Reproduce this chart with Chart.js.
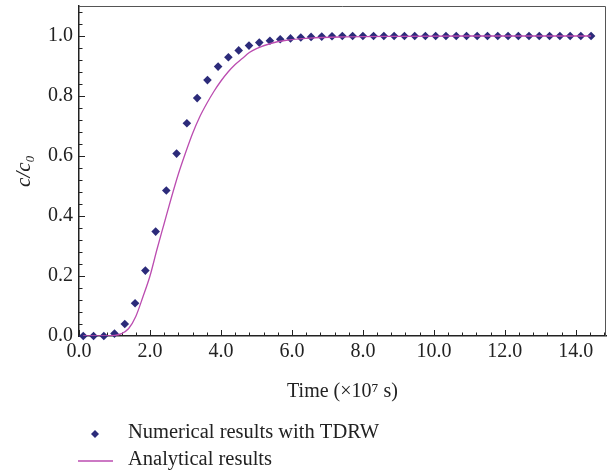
<!DOCTYPE html>
<html>
<head>
<meta charset="utf-8">
<script src="https://cdn.jsdelivr.net/npm/chart.js@4/dist/chart.umd.min.js"></script>
<style>
  html, body { margin: 0; padding: 0; background: #fff; }
</style>
</head>
<body>
<canvas id="chart" width="613" height="473"></canvas>
<script>
// numerical (TDRW) results, time in 1e7 s
const numTime = [0.12, 0.41, 0.70, 1.00, 1.29, 1.58, 1.87, 2.16, 2.46, 2.75,
                 3.04, 3.33, 3.62, 3.92, 4.21, 4.50, 4.79, 5.08, 5.38, 5.67,
                 5.96, 6.25, 6.54, 6.84, 7.13, 7.42, 7.71, 8.00, 8.30, 8.59,
                 8.88, 9.17, 9.46, 9.76, 10.05, 10.34, 10.63, 10.92, 11.22, 11.51,
                 11.80, 12.09, 12.38, 12.68, 12.97, 13.26, 13.55, 13.84, 14.14, 14.43];
const numConc = [0, 0, 0, 0.008, 0.04, 0.109, 0.218, 0.348, 0.485, 0.608,
                 0.709, 0.793, 0.853, 0.898, 0.929, 0.952, 0.968, 0.978, 0.984, 0.989,
                 0.992, 0.995, 0.997, 0.998, 0.999, 1, 1, 1, 1, 1,
                 1, 1, 1, 1, 1, 1, 1, 1, 1, 1,
                 1, 1, 1, 1, 1, 1, 1, 1, 1, 1];
// analytical solution
const anaTime = [0.12, 0.5, 1.0, 1.2, 1.4, 1.6, 1.8, 2.0, 2.2, 2.4, 2.6, 2.8, 3.0, 3.2, 3.4,
                 3.6, 3.8, 4.0, 4.2, 4.4, 4.6, 4.8, 5.0, 5.4, 5.8, 6.5, 7.5, 9.0, 11.0, 14.43];
const anaConc = [0, 0, 0.002, 0.008, 0.025, 0.065, 0.13, 0.20, 0.29, 0.375, 0.46, 0.54, 0.61, 0.675, 0.73,
                 0.775, 0.815, 0.85, 0.88, 0.905, 0.925, 0.945, 0.958, 0.975, 0.985, 0.993, 0.997, 0.999, 1, 1];

const xTicks = [0, 2, 4, 6, 8, 10, 12, 14];
const yTicks = [0, 0.2, 0.4, 0.6, 0.8, 1.0];
const seriesNames = ['Numerical results with TDRW', 'Analytical results'];

const
  pointColor = '#2c2b7a',
  lineColor  = '#bb4cb0',
  textColor  = '#222',
  serif      = '"Liberation Serif", "DejaVu Serif", serif';

// frame on top/right + inward tick marks, like the original plot
const frame = {
  id: 'frame',
  beforeDatasetsDraw(chart) {
    const {ctx, chartArea: a, scales: {x, y}} = chart;
    ctx.save();
    ctx.strokeStyle = '#555';
    ctx.lineWidth = 1;
    ctx.beginPath();
    ctx.moveTo(a.left, a.top + 0.5);
    ctx.lineTo(a.right - 0.5, a.top + 0.5);
    ctx.lineTo(a.right - 0.5, a.bottom);
    ctx.stroke();

    ctx.strokeStyle = textColor;
    ctx.beginPath();
    for (let k = 0; k <= 27; k++) {
      const py = Math.round(y.getPixelForValue(k * 0.04)) + 0.5;
      const len = k % 5 === 0 ? 6 : 3.5;
      ctx.moveTo(a.left, py);
      ctx.lineTo(a.left + len, py);
    }
    for (let k = 0; k <= 37; k++) {
      const px = Math.round(x.getPixelForValue(k * 0.4)) + 0.5;
      const len = k % 5 === 0 ? 6 : 3.5;
      ctx.moveTo(px, a.bottom);
      ctx.lineTo(px, a.bottom - len);
    }
    ctx.stroke();
    ctx.restore();
  },
  afterDraw(chart) {
    const ctx = chart.ctx;
    ctx.save();
    ctx.font = '20.5px ' + serif;
    ctx.textBaseline = 'middle';
    ctx.textAlign = 'left';
    // diamond marker
    ctx.fillStyle = pointColor;
    ctx.beginPath();
    ctx.moveTo(95, 430);
    ctx.lineTo(99, 434);
    ctx.lineTo(95, 438);
    ctx.lineTo(91, 434);
    ctx.closePath();
    ctx.fill();
    ctx.fillStyle = textColor;
    ctx.fillText(seriesNames[0], 128, 433);
    ctx.strokeStyle = lineColor;
    ctx.lineWidth = 1.3;
    ctx.beginPath();
    ctx.moveTo(78, 461);
    ctx.lineTo(113, 461);
    ctx.stroke();
    ctx.fillText(seriesNames[1], 128, 460);
    ctx.restore();
  }
};

new Chart(document.getElementById('chart').getContext('2d'), {
  type: 'scatter',
  plugins: [frame],
  data: {
    datasets: [
      {
        label: seriesNames[1],
        data: anaTime.map((t, i) => ({x: t, y: anaConc[i]})),
        showLine: true,
        borderColor: lineColor,
        borderWidth: 1.3,
        pointRadius: 0,
        cubicInterpolationMode: 'monotone',
        fill: false
      },
      {
        label: seriesNames[0],
        data: numTime.map((t, i) => ({x: t, y: numConc[i]})),
        pointStyle: 'rectRot',
        pointRadius: 4.3,
        backgroundColor: pointColor,
        borderColor: pointColor,
        borderWidth: 0,
        clip: false
      }
    ]
  },
  options: {
    responsive: false,
    animation: false,
    layout: { padding: { left: 0, right: 7, top: 6, bottom: 67 } },
    plugins: {
      legend: { display: false },
      tooltip: { enabled: false }
    },
    scales: {
      x: {
        type: 'linear',
        min: 0,
        max: 14.85,
        afterFit: s => { s.height = 70; s.paddingLeft = 0; s.paddingRight = 0; },
        afterBuildTicks: s => { s.ticks = xTicks.map(v => ({value: v})); },
        grid: { display: false, drawTicks: false },
        border: { display: true, color: textColor, width: 1.5 },
        ticks: {
          padding: 4,
          color: textColor,
          font: { family: serif, size: 20 },
          callback: v => v.toFixed(1)
        },
        title: {
          display: true,
          text: 'Time (×10⁷ s)',
          color: textColor,
          font: { family: serif, size: 20 },
          padding: { top: 0, bottom: 2 }
        }
      },
      y: {
        min: 0,
        max: 1.1,
        afterFit: s => { s.width = 79; s.paddingTop = 0; s.paddingBottom = 0; },
        afterBuildTicks: s => { s.ticks = yTicks.map(v => ({value: v})); },
        grid: { display: false, drawTicks: false },
        border: { display: true, color: textColor, width: 1.5 },
        ticks: {
          padding: 6,
          color: textColor,
          font: { family: serif, size: 20 },
          callback: v => v.toFixed(1)
        },
        title: {
          display: true,
          text: 'c/c₀',
          color: textColor,
          font: { family: serif, size: 21, style: 'italic' },
          padding: { top: 12, bottom: 0 }
        }
      }
    }
  }
});
</script>
</body>
</html>
